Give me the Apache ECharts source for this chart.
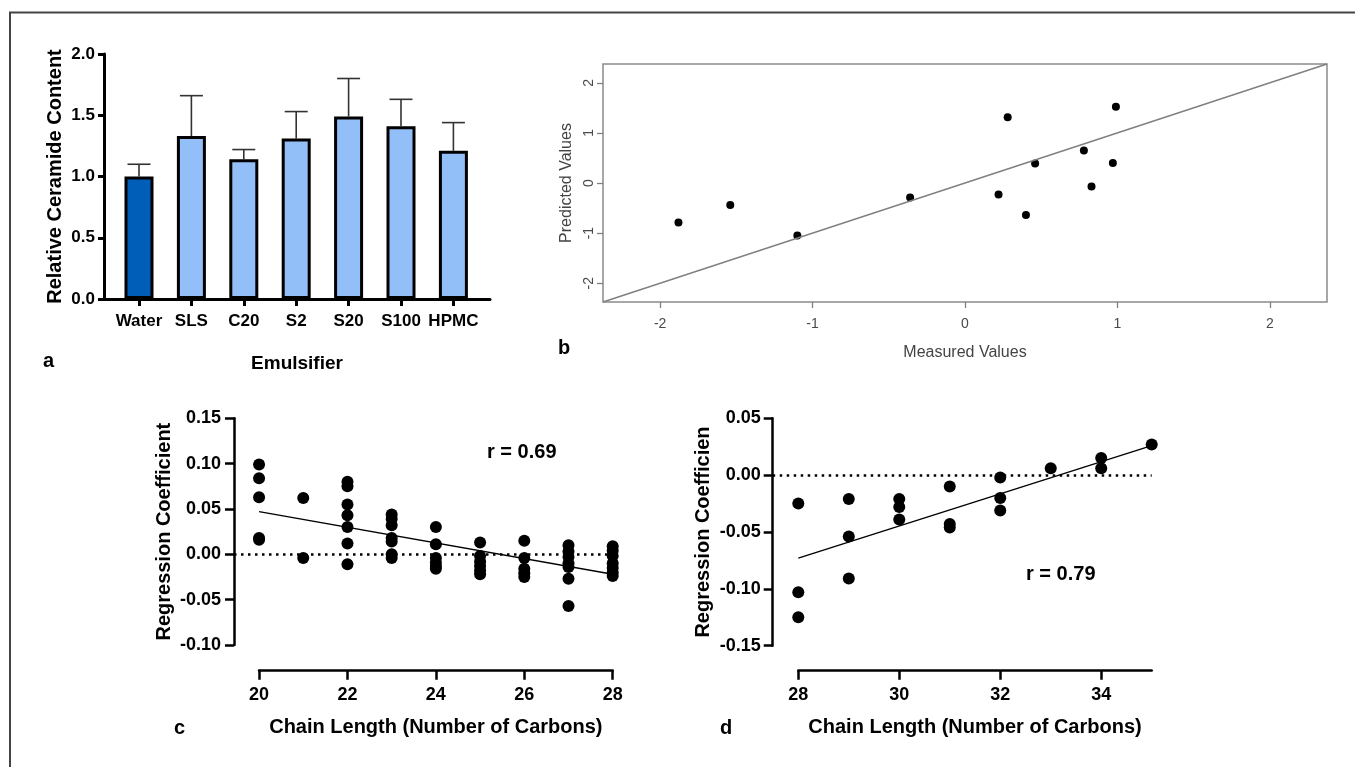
<!DOCTYPE html>
<html>
<head>
<meta charset="utf-8">
<script src="https://cdn.jsdelivr.net/npm/echarts@6/dist/echarts.min.js"></script>
<style>
  html, body { margin: 0; padding: 0; background: #fff; }
  #chart { width: 1355px; height: 767px; }
</style>
</head>
<body>
<div id="chart"></div>
<script>
// ---- Panel a: relative ceramide content by emulsifier (mean + SD) ----
const emulsifiers = ['Water', 'SLS', 'C20', 'S2', 'S20', 'S100', 'HPMC'];
const ceramideMean = [1.00, 1.33, 1.14, 1.31, 1.49, 1.41, 1.21];
const ceramideSD = [0.10, 0.33, 0.08, 0.22, 0.31, 0.22, 0.23];

// ---- Panel b: predicted vs measured values ----
const measuredValues = [-1.88, -1.54, -1.10, -0.36, 0.22, 0.28, 0.40, 0.46, 0.78, 0.83, 0.97, 0.99];
const predictedValues = [-0.79, -0.44, -1.05, -0.29, -0.23, 1.31, -0.64, 0.39, 0.65, -0.07, 0.40, 1.52];
const bTicks = [-2, -1, 0, 1, 2];
const bLimit = 2.375;

// ---- Panel c: regression coefficient vs chain length (C20-C28) ----
const chainC = [
  20, 20, 20, 20, 20,
  21, 21,
  22, 22, 22, 22, 22, 22, 22,
  23, 23, 23, 23, 23, 23, 23,
  24, 24, 24, 24, 24, 24,
  25, 25, 25, 25, 25, 25,
  26, 26, 26, 26, 26,
  27, 27, 27, 27, 27, 27, 27,
  28, 28, 28, 28, 28, 28, 28
];
const coefC = [
  0.099, 0.084, 0.063, 0.018, 0.016,
  0.062, -0.004,
  0.080, 0.075, 0.055, 0.043, 0.030, 0.012, -0.011,
  0.044, 0.039, 0.032, 0.018, 0.014, 0.000, -0.004,
  0.030, 0.011, -0.004, -0.009, -0.013, -0.016,
  0.013, -0.002, -0.008, -0.013, -0.018, -0.022,
  0.015, -0.004, -0.016, -0.021, -0.025,
  0.010, 0.003, -0.003, -0.010, -0.014, -0.027, -0.057,
  0.009, 0.004, -0.002, -0.010, -0.015, -0.020, -0.024
];
const fitC = [[20, 0.047], [28, -0.022]];
const rLabelC = 'r = 0.69';

// ---- Panel d: regression coefficient vs chain length (C28-C35) ----
const chainD = [28, 28, 28, 29, 29, 29, 30, 30, 30, 31, 31, 31, 32, 32, 32, 33, 34, 34, 35];
const coefD = [
  -0.025, -0.103, -0.125,
  -0.021, -0.054, -0.091,
  -0.021, -0.028, -0.039,
  -0.010, -0.043, -0.046,
  -0.002, -0.020, -0.031,
  0.006,
  0.015, 0.006,
  0.027
];
const fitD = [[28, -0.073], [35, 0.026]];
const rLabelD = 'r = 0.79';
const dTicks = [28, 30, 32, 34];

const FONT = 'Liberation Sans, Arial, sans-serif';
const zip = (xs, ys) => xs.map((x, i) => [x, ys[i]]);

const boldAxis = (size) => ({ fontFamily: FONT, fontWeight: 'bold', fontSize: size, color: '#000' });
const hidden = (extra) => Object.assign({ show: false, type: 'value' }, extra);
const dot = { color: '#000', opacity: 1 };

const chart = echarts.init(document.getElementById('chart'), null, { renderer: 'canvas' });

const option = {
  backgroundColor: '#fff',
  animation: false,
  grid: [
    // 0: panel a axis frame
    { left: 104, top: 54, width: 386, height: 245 },
    // 1: panel a bars
    { left: 112.8, top: 54, width: 366.8, height: 245 },
    // 2: panel b
    { left: 603, top: 64, width: 724, height: 238, show: true, borderColor: '#8a8a8a', borderWidth: 1.5, backgroundColor: 'transparent' },
    // 3: panel c data, 4: panel c y axis, 5: panel c x axis
    { left: 234, top: 418.3, width: 378.7, height: 252.4 },
    { left: 234, top: 418.3, width: 378.7, height: 226.7 },
    { left: 259, top: 418.3, width: 353.7, height: 252.4 },
    // 6: panel d data, 7: panel d y axis, 8: panel d x axis
    { left: 772.7, top: 418.3, width: 379, height: 252.4 },
    { left: 772.7, top: 418.3, width: 379, height: 227.4 },
    { left: 798.3, top: 418.3, width: 353.4, height: 252.4 }
  ],
  xAxis: [
    { // 0
      gridIndex: 0, type: 'value', min: 0, max: 1,
      axisLine: { show: true, onZero: false, lineStyle: { color: '#000', width: 3 } },
      axisTick: { show: false }, axisLabel: { show: false }, splitLine: { show: false },
      name: 'Emulsifier', nameLocation: 'middle', nameGap: 55,
      nameTextStyle: boldAxis(19)
    },
    { // 1
      gridIndex: 1, type: 'category', data: emulsifiers,
      axisLine: { show: false, onZero: false },
      axisTick: { show: true, alignWithLabel: true, length: 7, lineStyle: { color: '#000', width: 3 } },
      axisLabel: Object.assign({ interval: 0, margin: 14 }, boldAxis(17)),
      splitLine: { show: false }
    },
    { // 2
      gridIndex: 2, type: 'value', min: -bLimit, max: bLimit,
      axisLine: { show: false, onZero: false },
      axisTick: { show: true, customValues: bTicks, length: 6, lineStyle: { color: '#808080', width: 1.3 } },
      axisLabel: { customValues: bTicks, margin: 15, fontFamily: FONT, fontSize: 14, color: '#4a4a4a' },
      splitLine: { show: false },
      name: 'Measured Values', nameLocation: 'middle', nameGap: 43,
      nameTextStyle: { fontFamily: FONT, fontSize: 16, color: '#444' }
    },
    hidden({ gridIndex: 3, min: 19.433, max: 28 }), // 3
    hidden({ gridIndex: 4, min: 0, max: 1 }),       // 4
    { // 5
      gridIndex: 5, type: 'value', min: 20, max: 28, interval: 2,
      axisLine: { show: true, onZero: false, lineStyle: { color: '#000', width: 2.5 } },
      axisTick: { show: true, length: 9, lineStyle: { color: '#000', width: 2.5 } },
      axisLabel: Object.assign({ margin: 15 }, boldAxis(18)),
      splitLine: { show: false },
      name: 'Chain Length (Number of Carbons)', nameLocation: 'middle', nameGap: 47,
      nameTextStyle: boldAxis(20)
    },
    hidden({ gridIndex: 6, min: 27.493, max: 35 }), // 6
    hidden({ gridIndex: 7, min: 0, max: 1 }),       // 7
    { // 8
      gridIndex: 8, type: 'value', min: 28, max: 35,
      axisLine: { show: true, onZero: false, lineStyle: { color: '#000', width: 2.5 } },
      axisTick: { show: true, customValues: dTicks, length: 9, lineStyle: { color: '#000', width: 2.5 } },
      axisLabel: Object.assign({ customValues: dTicks, margin: 15 }, boldAxis(18)),
      splitLine: { show: false },
      name: 'Chain Length (Number of Carbons)', nameLocation: 'middle', nameGap: 47,
      nameTextStyle: boldAxis(20)
    }
  ],
  yAxis: [
    { // 0
      gridIndex: 0, type: 'value', min: 0, max: 2, interval: 0.5,
      axisLine: { show: true, onZero: false, lineStyle: { color: '#000', width: 3 } },
      axisTick: { show: true, length: 6, lineStyle: { color: '#000', width: 3 } },
      axisLabel: Object.assign({ margin: 9, formatter: v => v.toFixed(1) }, boldAxis(17)),
      splitLine: { show: false },
      name: 'Relative Ceramide Content', nameLocation: 'middle', nameGap: 39,
      nameTextStyle: boldAxis(20)
    },
    hidden({ gridIndex: 1, min: 0, max: 2 }), // 1
    { // 2
      gridIndex: 2, type: 'value', min: -bLimit, max: bLimit,
      axisLine: { show: false, onZero: false },
      axisTick: { show: true, customValues: bTicks, length: 6, lineStyle: { color: '#808080', width: 1.3 } },
      axisLabel: { customValues: bTicks, rotate: 90, margin: 7, fontFamily: FONT, fontSize: 14, color: '#4a4a4a' },
      splitLine: { show: false },
      name: 'Predicted Values', nameLocation: 'middle', nameGap: 27,
      nameTextStyle: { fontFamily: FONT, fontSize: 16, color: '#444' }
    },
    hidden({ gridIndex: 3, min: -0.1284, max: 0.15 }), // 3
    { // 4
      gridIndex: 4, type: 'value', min: -0.10, max: 0.15, interval: 0.05,
      axisLine: { show: true, onZero: false, lineStyle: { color: '#000', width: 2.5 } },
      axisTick: { show: true, length: 9, lineStyle: { color: '#000', width: 2.5 } },
      axisLabel: Object.assign({ margin: 13, formatter: v => v.toFixed(2) }, boldAxis(18)),
      splitLine: { show: false },
      name: 'Regression Coefficient', nameLocation: 'middle', nameGap: 60,
      nameTextStyle: boldAxis(20)
    },
    hidden({ gridIndex: 5, min: 0, max: 1 }), // 5
    hidden({ gridIndex: 6, min: -0.172, max: 0.05 }), // 6
    { // 7
      gridIndex: 7, type: 'value', min: -0.15, max: 0.05, interval: 0.05,
      axisLine: { show: true, onZero: false, lineStyle: { color: '#000', width: 2.5 } },
      axisTick: { show: true, length: 9, lineStyle: { color: '#000', width: 2.5 } },
      axisLabel: Object.assign({ margin: 12, formatter: v => v.toFixed(2) }, boldAxis(18)),
      splitLine: { show: false },
      name: 'Regression Coefficien', nameLocation: 'middle', nameGap: 59,
      nameTextStyle: boldAxis(20)
    },
    hidden({ gridIndex: 8, min: 0, max: 1 }) // 8
  ],
  series: [
    // panel a: error bars (upper SD) behind the bars
    {
      type: 'custom', xAxisIndex: 1, yAxisIndex: 1, z: 1, silent: true,
      data: emulsifiers.map((c, i) => [i, ceramideMean[i], ceramideMean[i] + ceramideSD[i]]),
      renderItem: (params, api) => {
        const base = api.coord([api.value(0), api.value(1)]);
        const top = api.coord([api.value(0), api.value(2)]);
        const half = 11.5;
        return {
          type: 'group',
          children: [
            { type: 'line', shape: { x1: base[0], y1: base[1], x2: top[0], y2: top[1] }, style: { stroke: '#333', lineWidth: 1.6 } },
            { type: 'line', shape: { x1: top[0] - half, y1: top[1], x2: top[0] + half, y2: top[1] }, style: { stroke: '#333', lineWidth: 1.6 } }
          ]
        };
      }
    },
    {
      type: 'bar', xAxisIndex: 1, yAxisIndex: 1, z: 2, barWidth: 29,
      data: ceramideMean.map((v, i) => ({
        value: v,
        itemStyle: { color: i === 0 ? '#005eb8' : '#92bff8', borderColor: '#000', borderWidth: 3 }
      }))
    },
    // panel b
    {
      type: 'line', xAxisIndex: 2, yAxisIndex: 2, symbol: 'none', silent: true,
      data: [[-bLimit, -bLimit], [bLimit, bLimit]],
      lineStyle: { color: '#808080', width: 1.5 }
    },
    {
      type: 'scatter', xAxisIndex: 2, yAxisIndex: 2, symbolSize: 8,
      itemStyle: dot,
      data: zip(measuredValues, predictedValues)
    },
    // panel c
    {
      type: 'scatter', xAxisIndex: 3, yAxisIndex: 3, symbolSize: 12, clip: false,
      itemStyle: dot,
      data: zip(chainC, coefC),
      markLine: {
        silent: true, symbol: 'none', label: { show: false },
        lineStyle: { color: '#000', width: 2.5, type: [2.5, 4.5] },
        data: [{ yAxis: 0 }]
      }
    },
    {
      type: 'line', xAxisIndex: 3, yAxisIndex: 3, symbol: 'none', silent: true,
      data: fitC, lineStyle: { color: '#000', width: 1.3 }
    },
    // panel d
    {
      type: 'scatter', xAxisIndex: 6, yAxisIndex: 6, symbolSize: 12, clip: false,
      itemStyle: dot,
      data: zip(chainD, coefD),
      markLine: {
        silent: true, symbol: 'none', label: { show: false },
        lineStyle: { color: '#000', width: 2.5, type: [2.5, 4.5] },
        data: [{ yAxis: 0 }]
      }
    },
    {
      type: 'line', xAxisIndex: 6, yAxisIndex: 6, symbol: 'none', silent: true,
      data: fitD, lineStyle: { color: '#000', width: 1.3 }
    }
  ],
  graphic: [
    // figure frame (top and left edges)
    {
      type: 'polyline', silent: true,
      shape: { points: [[10, 767], [10, 12.5], [1355, 12.5]] },
      style: { stroke: '#444', lineWidth: 2, fill: null }
    },
    { type: 'text', left: 43, top: 351, style: { text: 'a', font: 'bold 20px ' + FONT, fill: '#000' } },
    { type: 'text', left: 558, top: 338, style: { text: 'b', font: 'bold 20px ' + FONT, fill: '#000' } },
    { type: 'text', left: 174, top: 718, style: { text: 'c', font: 'bold 20px ' + FONT, fill: '#000' } },
    { type: 'text', left: 720, top: 718, style: { text: 'd', font: 'bold 20px ' + FONT, fill: '#000' } },
    { type: 'text', left: 487, top: 442, style: { text: rLabelC, font: 'bold 20px ' + FONT, fill: '#000' } },
    { type: 'text', left: 1026, top: 564, style: { text: rLabelD, font: 'bold 20px ' + FONT, fill: '#000' } }
  ]
};

chart.setOption(option);
</script>
</body>
</html>
